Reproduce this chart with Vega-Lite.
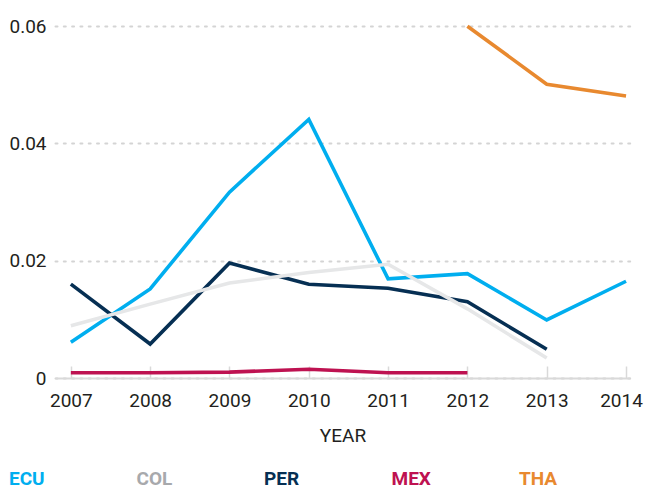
{
  "$schema": "https://vega.github.io/schema/vega-lite/v6.json",
  "autosize": {"type": "none"},
  "width": 575,
  "height": 370,
  "padding": {"left": 55, "top": 8, "right": 15, "bottom": 109},
  "background": "white",
  "config": {
    "view": {"stroke": null},
    "font": "Roboto, Liberation Sans, sans-serif"
  },
  "data": {
    "values": [
      {"year": 2007, "country": "ECU", "value": 0.0061},
      {"year": 2008, "country": "ECU", "value": 0.0152},
      {"year": 2009, "country": "ECU", "value": 0.0317},
      {"year": 2010, "country": "ECU", "value": 0.0441},
      {"year": 2011, "country": "ECU", "value": 0.0169},
      {"year": 2012, "country": "ECU", "value": 0.0178},
      {"year": 2013, "country": "ECU", "value": 0.0099},
      {"year": 2014, "country": "ECU", "value": 0.0165},
      {"year": 2007, "country": "PER", "value": 0.016},
      {"year": 2008, "country": "PER", "value": 0.0058},
      {"year": 2009, "country": "PER", "value": 0.0196},
      {"year": 2010, "country": "PER", "value": 0.016},
      {"year": 2011, "country": "PER", "value": 0.0153},
      {"year": 2012, "country": "PER", "value": 0.013},
      {"year": 2013, "country": "PER", "value": 0.0049},
      {"year": 2007, "country": "COL", "value": 0.0089},
      {"year": 2008, "country": "COL", "value": 0.0126},
      {"year": 2009, "country": "COL", "value": 0.0162},
      {"year": 2010, "country": "COL", "value": 0.018},
      {"year": 2011, "country": "COL", "value": 0.0194},
      {"year": 2012, "country": "COL", "value": 0.0118},
      {"year": 2013, "country": "COL", "value": 0.0034},
      {"year": 2007, "country": "MEX", "value": 0.0009},
      {"year": 2008, "country": "MEX", "value": 0.0009},
      {"year": 2009, "country": "MEX", "value": 0.001},
      {"year": 2010, "country": "MEX", "value": 0.0015},
      {"year": 2011, "country": "MEX", "value": 0.0009},
      {"year": 2012, "country": "MEX", "value": 0.0009},
      {"year": 2012, "country": "THA", "value": 0.06},
      {"year": 2013, "country": "THA", "value": 0.0501},
      {"year": 2014, "country": "THA", "value": 0.0481}
    ]
  },
  "mark": {"type": "line", "strokeWidth": 3.6, "strokeJoin": "miter", "clip": false},
  "encoding": {
    "x": {
      "field": "year",
      "type": "quantitative",
      "scale": {"domain": [2006.8, 2014.05], "nice": false, "zero": false},
      "axis": {
        "values": [2007, 2008, 2009, 2010, 2011, 2012, 2013, 2014],
        "format": "d",
        "title": "YEAR",
        "titleFontWeight": "normal",
        "titleFontSize": 19,
        "titleColor": "#231f20",
        "titlePadding": 16,
        "labelFontSize": 19,
        "labelColor": "#231f20",
        "labelPadding": 25,
        "labelOffset": {"condition": {"test": "datum.value == 2014", "value": -5}, "value": 0},
        "grid": false,
        "domainColor": "#d9d9d9",
        "domainWidth": 2,
        "tickColor": "#d9d9d9",
        "tickWidth": 1.5,
        "tickSize": -12
      }
    },
    "y": {
      "field": "value",
      "type": "quantitative",
      "scale": {"domain": [0, 0.0631], "nice": false},
      "axis": {
        "values": [0, 0.02, 0.04, 0.06],
        "labelExpr": "datum.value == 0 ? '0' : format(datum.value, '.2f')",
        "title": null,
        "domain": false,
        "ticks": false,
        "labelFontSize": 19,
        "labelColor": "#231f20",
        "labelPadding": 9,
        "grid": true,
        "gridColor": "#d4d4d4",
        "gridWidth": 2,
        "gridDash": [2, 6.3],
        "gridCap": "round"
      }
    },
    "color": {
      "field": "country",
      "type": "nominal",
      "scale": {
        "domain": ["ECU", "COL", "PER", "MEX", "THA"],
        "range": ["#00aeef", "#e6e7e8", "#062f53", "#be1251", "#e8892f"]
      },
      "legend": {
        "title": null,
        "orient": "none",
        "legendX": -65,
        "legendY": 461,
        "direction": "horizontal",
        "columns": 5,
        "gridAlign": "all",
        "columnPadding": 68.5,
        "symbolSize": 0,
        "symbolStrokeWidth": 0,
        "symbolOpacity": 0,
        "labelOffset": 0,
        "labelLimit": 200,
        "labelFontSize": 19,
        "labelFontWeight": "bold",
        "labelFont": "Roboto, Liberation Sans, sans-serif",
        "encode": {
          "labels": {
            "update": {
              "fill": {"signal": "datum.value === 'COL' ? '#a7a9ac' : scale('color', datum.value)"}
            }
          }
        }
      }
    }
  }
}
